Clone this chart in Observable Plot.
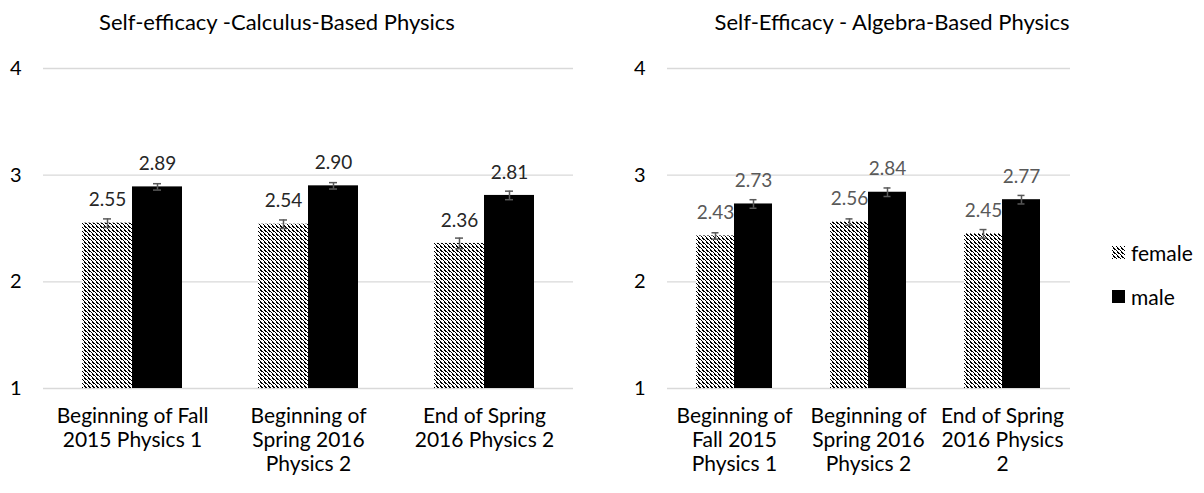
<!DOCTYPE html>
<html>
<head>
<meta charset="utf-8">
<script src="https://cdn.jsdelivr.net/npm/d3@7"></script>
<script src="https://cdn.jsdelivr.net/npm/@observablehq/plot@0.6"></script>
<style>
  body { margin: 0; background: #fff; font-family: Lato, "Open Sans", sans-serif; }
  #wrap { position: relative; width: 1204px; height: 493px; overflow: hidden; }
  .panel { position: absolute; top: 0; }
  .title { position: absolute; top: 8px; font-size: 22px; line-height: 28px; color: #000; white-space: nowrap; transform: translateX(-50%); }
  .leg { position: absolute; left: 1112px; font-size: 21px; color: #000; display: flex; align-items: center; height: 26px; }
  .leg svg { margin-right: 6px; }
</style>
</head>
<body>
<svg width="0" height="0" style="position:absolute">
  <defs>
    <pattern id="hatch" patternUnits="userSpaceOnUse" width="4" height="4">
      <rect width="4" height="4" fill="#fff"></rect>
      <path d="M-1,-1 L5,5 M-1,3 L1,5 M3,-1 L5,1" stroke="#000" stroke-width="1.4" shape-rendering="crispEdges"></path>
    </pattern>
  </defs>
</svg>
<div id="wrap"></div>
<script>
// ---- data ----
const categories = ["Beginning of Fall 2015 Physics 1", "Beginning of Spring 2016 Physics 2", "End of Spring 2016 Physics 2"];
const calcLabels = ["Beginning of Fall\n2015 Physics 1", "Beginning of\nSpring 2016\nPhysics 2", "End of Spring\n2016 Physics 2"];
const algLabels = ["Beginning of\nFall 2015\nPhysics 1", "Beginning of\nSpring 2016\nPhysics 2", "End of Spring\n2016 Physics\n2"];
const genders = ["female", "male"];
const calcTitle = "Self-efficacy -Calculus-Based Physics";
const algTitle = "Self-Efficacy - Algebra-Based Physics";
const calcFemale = [2.55, 2.54, 2.36];
const calcMale = [2.89, 2.90, 2.81];
const calcFemaleErr = [0.04, 0.04, 0.05];
const calcMaleErr = [0.03, 0.03, 0.04];
const algFemale = [2.43, 2.56, 2.45];
const algMale = [2.73, 2.84, 2.77];
const algFemaleErr = [0.03, 0.03, 0.04];
const algMaleErr = [0.04, 0.04, 0.04];
const yTicks = [1, 2, 3, 4];

function rowsOf(fem, mal, femErr, malErr) {
  const rows = [];
  categories.forEach((c, i) => {
    rows.push({cat: c, gender: "female", value: fem[i], err: femErr[i]});
    rows.push({cat: c, gender: "male", value: mal[i], err: malErr[i]});
  });
  return rows;
}

const FONT = "Lato, 'Open Sans', sans-serif";

function backdrop(o) {
  return Plot.plot({
    width: o.width, height: 493,
    marginTop: 68, marginBottom: 105, marginLeft: o.ml, marginRight: o.mr,
    style: {fontFamily: FONT, fontSize: "20px", color: "#000", background: "transparent"},
    x: {domain: [0, 1], axis: null},
    y: {domain: [1, 4], axis: null},
    marks: [
      Plot.ruleY(yTicks, {stroke: "#d9d9d9", strokeWidth: 1.3}),
      Plot.axisY({ticks: yTicks, tickSize: 0, tickPadding: o.tp, tickFormat: d => String(d), label: null, fontSize: 20})
    ]
  });
}

function chart(rows, labels, o) {
  return Plot.plot({
    width: o.width, height: 493,
    marginTop: 68, marginBottom: 105, marginLeft: o.ml, marginRight: o.mr,
    style: {fontFamily: FONT, fontSize: "18px", color: "#000", background: "transparent", overflow: "visible"},
    fx: {domain: categories, paddingInner: 0.43, paddingOuter: 0.215, axis: null},
    x: {domain: genders, padding: 0, axis: null},
    y: {domain: [1, 4], axis: null},
    marks: [
      Plot.barY(rows.filter(d => d.gender === "female"), {fx: "cat", x: "gender", y1: 1, y2: "value", fill: "url(#hatch)"}),
      Plot.barY(rows.filter(d => d.gender === "male"), {fx: "cat", x: "gender", y1: 1, y2: "value", fill: "#000"}),
      Plot.ruleX(rows, {fx: "cat", x: "gender", y1: d => d.value - d.err, y2: d => d.value + d.err, stroke: "#595959", strokeWidth: 1.5}),
      Plot.tickY(rows, {fx: "cat", x: "gender", y: d => d.value - d.err, stroke: "#595959", strokeWidth: 1.5, inset: o.capInset}),
      Plot.tickY(rows, {fx: "cat", x: "gender", y: d => d.value + d.err, stroke: "#595959", strokeWidth: 1.5, inset: o.capInset}),
      Plot.text(rows, {fx: "cat", x: "gender", y: "value", text: d => d.value.toFixed(2), dy: -23, fill: o.labelColor, fontSize: 19}),
      Plot.axisFx({anchor: "bottom", tickSize: 0, tickPadding: 17, lineHeight: 1.15, label: null, fontSize: 21, tickFormat: d => labels[categories.indexOf(d)]})
    ]
  });
}

const wrap = document.getElementById("wrap");

function place(svg, x) {
  svg.classList.add("panel");
  svg.style.left = x + "px";
  wrap.appendChild(svg);
}

const leftOpts = {width: 600, ml: 43, mr: 27, tp: 22, capInset: 21, labelColor: "#262626"};
const rightOpts = {width: 500, ml: 67, mr: 30, tp: 22, capInset: 15.5, labelColor: "#595959"};

place(backdrop(leftOpts), 0);
place(chart(rowsOf(calcFemale, calcMale, calcFemaleErr, calcMaleErr), calcLabels, leftOpts), 0);
place(backdrop(rightOpts), 600);
place(chart(rowsOf(algFemale, algMale, algFemaleErr, algMaleErr), algLabels, rightOpts), 600);

function addTitle(text, cx) {
  const t = document.createElement("div");
  t.className = "title";
  t.textContent = text;
  t.style.left = cx + "px";
  wrap.appendChild(t);
}
addTitle(calcTitle, 277);
addTitle(algTitle, 892);

function addLegend(name, fill, cy) {
  const l = document.createElement("div");
  l.className = "leg";
  l.style.top = (cy - 13) + "px";
  l.innerHTML = `<svg width="13" height="13"><rect width="13" height="13" fill="${fill}"></rect></svg>`;
  l.appendChild(document.createTextNode(name));
  wrap.appendChild(l);
}
genders.forEach((g, i) => addLegend(g, g === "female" ? "url(#hatch)" : "#000", i === 0 ? 252 : 296));
</script>
</body>
</html>
